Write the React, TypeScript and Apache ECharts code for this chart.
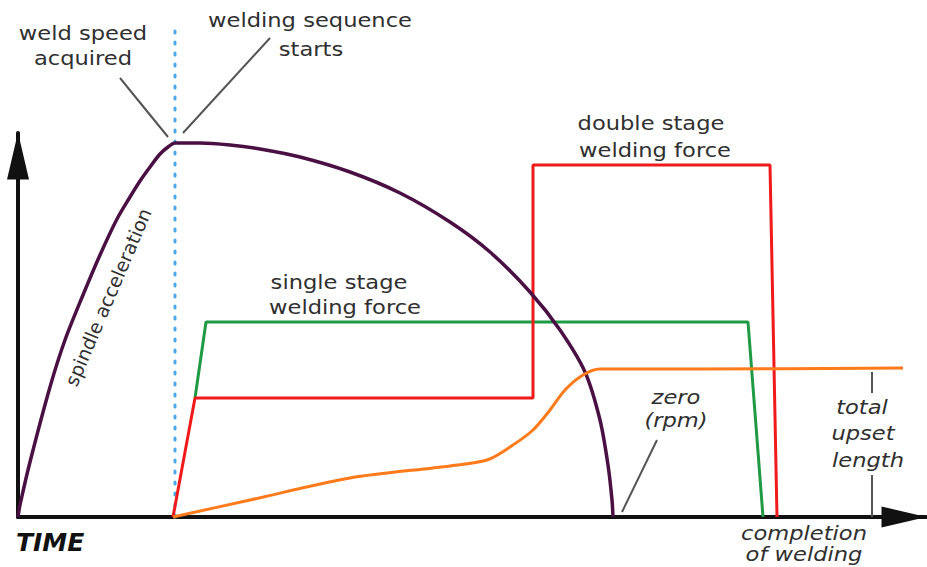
import React, { useEffect, useRef } from "react";
import * as echarts from "echarts";

// Time (x) and level (y) measured from the axes origin
const spindleSpeed: [number, number][] = [
  [0, 0], [2, 12], [12, 55], [32, 130], [47, 177], [65, 222], [82, 262], [99, 298],
  [112, 320], [122, 336], [132, 350], [142, 363], [150, 370], [157, 374], [182, 374],
  [212, 372], [242, 368], [282, 360], [332, 345], [382, 324], [432, 295], [472, 265],
  [512, 225], [542, 187], [567, 145], [582, 97], [590, 52], [594, 17], [595, 0],
];
const doubleStageForce: [number, number][] = [
  [155, 0], [177, 119], [515, 119], [515, 352], [752, 352], [759, 0],
];
const singleStageForce: [number, number][] = [
  [177, 119], [188, 195], [730, 195], [745, 0],
];
const upsetLength: [number, number][] = [
  [155, 0], [232, 17], [332, 39], [432, 51], [469, 57], [492, 70], [515, 87],
  [532, 107], [547, 127], [565, 142], [582, 148], [682, 148], [885, 149],
];
const sequenceStart: [number, number][] = [[157, 0], [157, 495]];

const axisTitle = "TIME";
const textLines = [
  { text: "weld speed", x: 83, y: 33, italic: false },
  { text: "acquired", x: 83, y: 58, italic: false },
  { text: "welding sequence", x: 310, y: 20, italic: false },
  { text: "starts", x: 311, y: 49, italic: false },
  { text: "double stage", x: 651, y: 123, italic: false },
  { text: "welding force", x: 655, y: 150, italic: false },
  { text: "single stage", x: 339, y: 282, italic: false },
  { text: "welding force", x: 345, y: 307, italic: false },
  { text: "zero", x: 676, y: 397, italic: true },
  { text: "(rpm)", x: 676, y: 420, italic: true },
  { text: "total", x: 862, y: 407, italic: true },
  { text: "upset", x: 863, y: 433, italic: true },
  { text: "length", x: 868, y: 460, italic: true },
  { text: "completion", x: 804, y: 533, italic: true },
  { text: "of welding", x: 804, y: 554, italic: true },
];
const pointerLines = [
  [120, 78, 168, 137],
  [270, 38, 183, 133],
  [657, 440, 622, 512],
  [872, 372, 872, 393],
  [872, 475, 872, 517],
];

const FONT = "DejaVu Sans";
const TEXT_COLOR = "#2f2f2f";

export default function App() {
  const ref = useRef<HTMLDivElement>(null);
  useEffect(() => {
    if (!ref.current) return;
    const chart = echarts.init(ref.current, undefined, { renderer: "svg" });
    const graphics: any[] = [];
    pointerLines.forEach((l) =>
      graphics.push({
        type: "line",
        shape: { x1: l[0], y1: l[1], x2: l[2], y2: l[3] },
        style: { stroke: "#555555", lineWidth: 2 },
        z: 5,
      })
    );
    textLines.forEach((t) =>
      graphics.push({
        type: "text",
        x: t.x,
        y: t.y,
        scaleX: 1.13,
        style: {
          text: t.text,
          font: `${t.italic ? "italic " : ""}20px '${FONT}'`,
          fill: TEXT_COLOR,
          textAlign: "center",
          textVerticalAlign: "middle",
        },
        z: 10,
      })
    );
    graphics.push({
      type: "text",
      x: 108,
      y: 297,
      rotation: 1.166,
      style: {
        text: "spindle acceleration",
        font: `19px '${FONT}'`,
        fill: TEXT_COLOR,
        textAlign: "center",
        textVerticalAlign: "middle",
      },
      z: 10,
    });
    graphics.push({
      type: "text",
      x: 16,
      y: 542,
      style: {
        text: axisTitle,
        font: `italic bold 25px '${FONT}'`,
        fill: "#111",
        textAlign: "left",
        textVerticalAlign: "middle",
      },
      z: 10,
    });

    const lineSeries = (data: [number, number][], color: string, width: number, extra: any = {}) => ({
      type: "line",
      data,
      showSymbol: false,
      symbol: "none",
      clip: false,
      silent: true,
      lineStyle: { color, width, ...(extra.lineStyle || {}) },
      smooth: extra.smooth ?? false,
      z: extra.z ?? 2,
    });

    chart.setOption({
      animation: false,
      backgroundColor: "#ffffff",
      grid: { left: 18, right: 1, top: 133, bottom: 50 },
      xAxis: {
        type: "value",
        min: 0,
        max: 908,
        axisLine: {
          show: true,
          symbol: ["none", "triangle"],
          symbolSize: [21, 45],
          symbolOffset: [0, -22],
          lineStyle: { color: "#111", width: 4 },
        },
        axisTick: { show: false },
        axisLabel: { show: false },
        splitLine: { show: false },
      },
      yAxis: {
        type: "value",
        min: 0,
        max: 384,
        axisLine: {
          show: true,
          symbol: ["none", "triangle"],
          symbolSize: [22, 47],
          symbolOffset: [0, -23],
          lineStyle: { color: "#111", width: 4 },
        },
        axisTick: { show: false },
        axisLabel: { show: false },
        splitLine: { show: false },
      },
      series: [
        lineSeries(sequenceStart, "#4aa8ea", 3, { lineStyle: { type: [2, 9], cap: "round" }, z: 1 }),
        lineSeries(singleStageForce, "#1f9a44", 3, { z: 2 }),
        lineSeries(doubleStageForce, "#f01a1a", 3, { z: 3 }),
        lineSeries(spindleSpeed, "#4a1043", 3.5, { smooth: 0.3, z: 4 }),
        lineSeries(upsetLength, "#ff7a1a", 3, { smooth: 0.3, z: 5 }),
      ],
      graphic: graphics,
    });
    return () => chart.dispose();
  }, []);
  return (
    <div
      ref={ref}
      style={{ position: "fixed", left: 0, top: 0, width: 927, height: 567, background: "#fff" }}
    />
  );
}
